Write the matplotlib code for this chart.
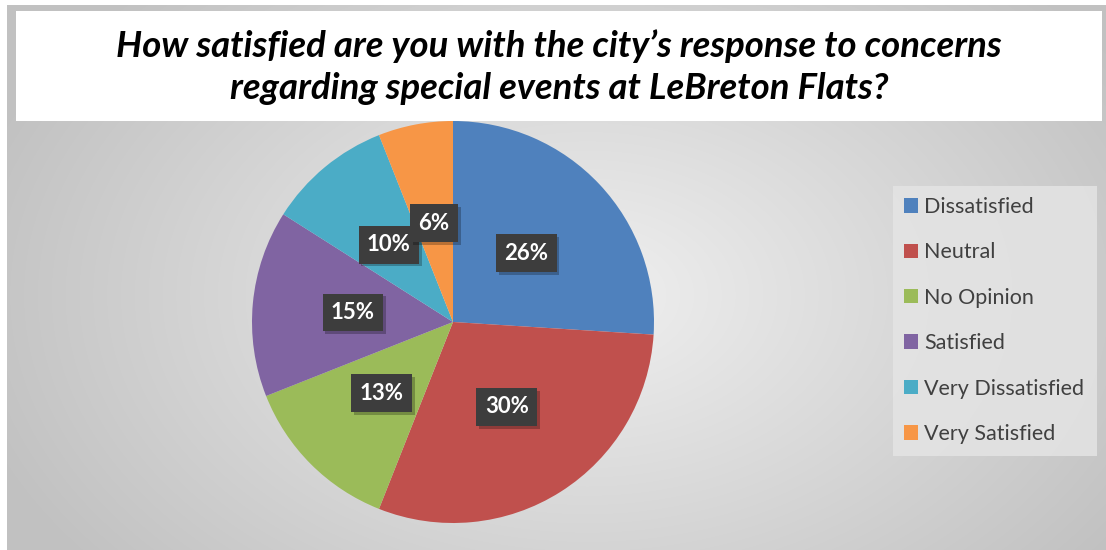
import numpy as np
import matplotlib
matplotlib.use("Agg")
import matplotlib.pyplot as plt
import matplotlib.patheffects as pe
from matplotlib.patches import Rectangle

# Data
categories = ["Dissatisfied", "Neutral", "No Opinion", "Satisfied",
              "Very Dissatisfied", "Very Satisfied"]
shares = [26, 30, 13, 15, 10, 6]
colors = ["#4F81BD", "#C0504D", "#9BBB59", "#8064A2", "#4BACC6", "#F79646"]
title = ("How satisfied are you with the city\u2019s response to concerns\n"
         "regarding special events at LeBreton Flats?")

W, H = 1106, 550
fig = plt.figure(figsize=(W / 100, H / 100), dpi=100)
fig.patch.set_facecolor("white")

# background: radial grey gradient
bg = fig.add_axes([7 / W, 0, (W - 7) / W, (H - 5) / H], zorder=0)
yy, xx = np.mgrid[0:H - 5, 0:W - 7]
d = np.sqrt(((xx - 580) / 600.0) ** 2 + ((yy - 290) / 400.0) ** 2)
shade = np.clip(0.94 - 0.17 * d, 0.76, 0.94)
bg.imshow(np.dstack([shade] * 3), aspect="auto", interpolation="bilinear")
bg.axis("off")

# title box
fig.patches.append(Rectangle((16 / W, 1 - 121 / H), (1102 - 16) / W, 110 / H,
                             transform=fig.transFigure, facecolor="white",
                             edgecolor="none", zorder=1))
fig.text(0.5 * (16 + 1102) / W, 1 - 67 / H, title, ha="center", va="center",
         fontsize=26.3, fontweight="bold", fontstyle="italic", family="Lato",
         color="black", linespacing=1.35, zorder=2)

# pie
cx, cy, r = 453, 322, 201
ax = fig.add_axes([(cx - r) / W, (H - cy - r) / H, 2 * r / W, 2 * r / H], zorder=3)
wedges, _, autotexts = ax.pie(shares, colors=colors, startangle=90,
                              counterclock=False, autopct="%.0f%%",
                              pctdistance=0.5,
                              wedgeprops=dict(linewidth=0),
                              textprops=dict(color="white", fontsize=16,
                                             fontweight="bold", family="Lato"))
for t in autotexts:
    t.set_bbox(dict(boxstyle="square,pad=0.38", facecolor="#3d3d3d",
                    edgecolor="none"))
    t.get_bbox_patch().set_path_effects([
        pe.SimplePatchShadow(offset=(2, -2), shadow_rgbFace="black", alpha=0.25),
        pe.Normal()])
ax.set_xlim(-1, 1)
ax.set_ylim(-1, 1)

# legend box
fig.patches.append(Rectangle((893 / W, 1 - 456 / H), 204 / W, 270 / H,
                             transform=fig.transFigure, facecolor="#e4e4e4",
                             edgecolor="none", alpha=0.85, zorder=1))
leg = fig.legend(wedges, categories, loc="upper left",
                 bbox_to_anchor=(904 / W, 1 - 197 / H), frameon=False,
                 handlelength=0.65, handleheight=0.65, handletextpad=0.3,
                 labelspacing=1.18, borderaxespad=0, borderpad=0,
                 prop=dict(family="Lato", size=15.5))
for t in leg.get_texts():
    t.set_color("#404040")

fig.savefig("out.png", dpi=100)
